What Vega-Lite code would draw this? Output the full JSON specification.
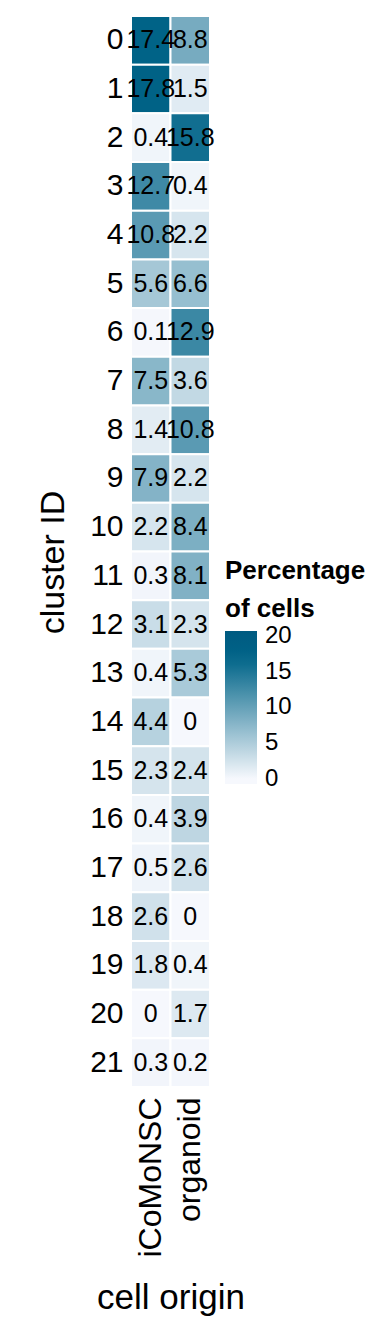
{
  "$schema": "https://vega.github.io/schema/vega-lite/v6.json",
  "autosize": {"type": "none"},
  "width": 79,
  "height": 1071,
  "padding": {"left": 131, "top": 16, "right": 174, "bottom": 257},
  "background": "white",
  "config": {
    "font": "Liberation Sans",
    "view": {"stroke": null},
    "axis": {"domain": false, "ticks": false, "grid": false, "labelColor": "black", "titleColor": "black", "titleFontWeight": "normal"}
  },
  "data": {
    "values": [
      {"cluster": "0", "origin": "iCoMoNSC", "pct": 17.4},
      {"cluster": "0", "origin": "organoid", "pct": 8.8},
      {"cluster": "1", "origin": "iCoMoNSC", "pct": 17.8},
      {"cluster": "1", "origin": "organoid", "pct": 1.5},
      {"cluster": "2", "origin": "iCoMoNSC", "pct": 0.4},
      {"cluster": "2", "origin": "organoid", "pct": 15.8},
      {"cluster": "3", "origin": "iCoMoNSC", "pct": 12.7},
      {"cluster": "3", "origin": "organoid", "pct": 0.4},
      {"cluster": "4", "origin": "iCoMoNSC", "pct": 10.8},
      {"cluster": "4", "origin": "organoid", "pct": 2.2},
      {"cluster": "5", "origin": "iCoMoNSC", "pct": 5.6},
      {"cluster": "5", "origin": "organoid", "pct": 6.6},
      {"cluster": "6", "origin": "iCoMoNSC", "pct": 0.1},
      {"cluster": "6", "origin": "organoid", "pct": 12.9},
      {"cluster": "7", "origin": "iCoMoNSC", "pct": 7.5},
      {"cluster": "7", "origin": "organoid", "pct": 3.6},
      {"cluster": "8", "origin": "iCoMoNSC", "pct": 1.4},
      {"cluster": "8", "origin": "organoid", "pct": 10.8},
      {"cluster": "9", "origin": "iCoMoNSC", "pct": 7.9},
      {"cluster": "9", "origin": "organoid", "pct": 2.2},
      {"cluster": "10", "origin": "iCoMoNSC", "pct": 2.2},
      {"cluster": "10", "origin": "organoid", "pct": 8.4},
      {"cluster": "11", "origin": "iCoMoNSC", "pct": 0.3},
      {"cluster": "11", "origin": "organoid", "pct": 8.1},
      {"cluster": "12", "origin": "iCoMoNSC", "pct": 3.1},
      {"cluster": "12", "origin": "organoid", "pct": 2.3},
      {"cluster": "13", "origin": "iCoMoNSC", "pct": 0.4},
      {"cluster": "13", "origin": "organoid", "pct": 5.3},
      {"cluster": "14", "origin": "iCoMoNSC", "pct": 4.4},
      {"cluster": "14", "origin": "organoid", "pct": 0},
      {"cluster": "15", "origin": "iCoMoNSC", "pct": 2.3},
      {"cluster": "15", "origin": "organoid", "pct": 2.4},
      {"cluster": "16", "origin": "iCoMoNSC", "pct": 0.4},
      {"cluster": "16", "origin": "organoid", "pct": 3.9},
      {"cluster": "17", "origin": "iCoMoNSC", "pct": 0.5},
      {"cluster": "17", "origin": "organoid", "pct": 2.6},
      {"cluster": "18", "origin": "iCoMoNSC", "pct": 2.6},
      {"cluster": "18", "origin": "organoid", "pct": 0},
      {"cluster": "19", "origin": "iCoMoNSC", "pct": 1.8},
      {"cluster": "19", "origin": "organoid", "pct": 0.4},
      {"cluster": "20", "origin": "iCoMoNSC", "pct": 0},
      {"cluster": "20", "origin": "organoid", "pct": 1.7},
      {"cluster": "21", "origin": "iCoMoNSC", "pct": 0.3},
      {"cluster": "21", "origin": "organoid", "pct": 0.2}
    ]
  },
  "encoding": {
    "x": {
      "field": "origin", "type": "nominal", "title": "cell origin",
      "scale": {"paddingInner": 0, "paddingOuter": 0},
      "axis": {"labelAngle": -90, "labelFontSize": 32, "labelPadding": 10, "titleFontSize": 35, "titlePadding": 23}
    },
    "y": {
      "field": "cluster", "type": "ordinal", "title": "cluster ID",
      "sort": ["0","1","2","3","4","5","6","7","8","9","10","11","12","13","14","15","16","17","18","19","20","21"],
      "scale": {"paddingInner": 0, "paddingOuter": 0},
      "axis": {"labelFontSize": 30, "labelPadding": 8, "titleFontSize": 34, "titleX": -68, "titleY": 546, "titleBaseline": "alphabetic"}
    }
  },
  "layer": [
    {
      "mark": {"type": "rect", "stroke": "white", "strokeWidth": 2},
      "encoding": {
        "color": {
          "field": "pct", "type": "quantitative",
          "title": ["Percentage", "of cells"],
          "scale": {"domain": [-0.74, 0, 17, 20.7], "range": ["#f6f8fd", "#f6f8fd", "#006488", "#005a80"], "interpolate": "rgb"},
          "legend": {
            "orient": "none", "legendX": 94, "legendY": 542,
            "gradientLength": 153, "gradientThickness": 32,
            "values": [0, 5, 10, 15, 20],
            "labelFontSize": 24, "labelOffset": 8, "labelColor": "black", "labelBaseline": "middle", "labelOverlap": false,
            "titleFontSize": 26, "titleFontWeight": "bold", "titleLineHeight": 38, "titleColor": "black", "titlePadding": 9,
            "gradientStrokeWidth": 0
          }
        }
      }
    },
    {
      "mark": {"type": "text", "fontSize": 25, "color": "black"},
      "encoding": {"text": {"field": "pct", "type": "quantitative"}}
    }
  ]
}
